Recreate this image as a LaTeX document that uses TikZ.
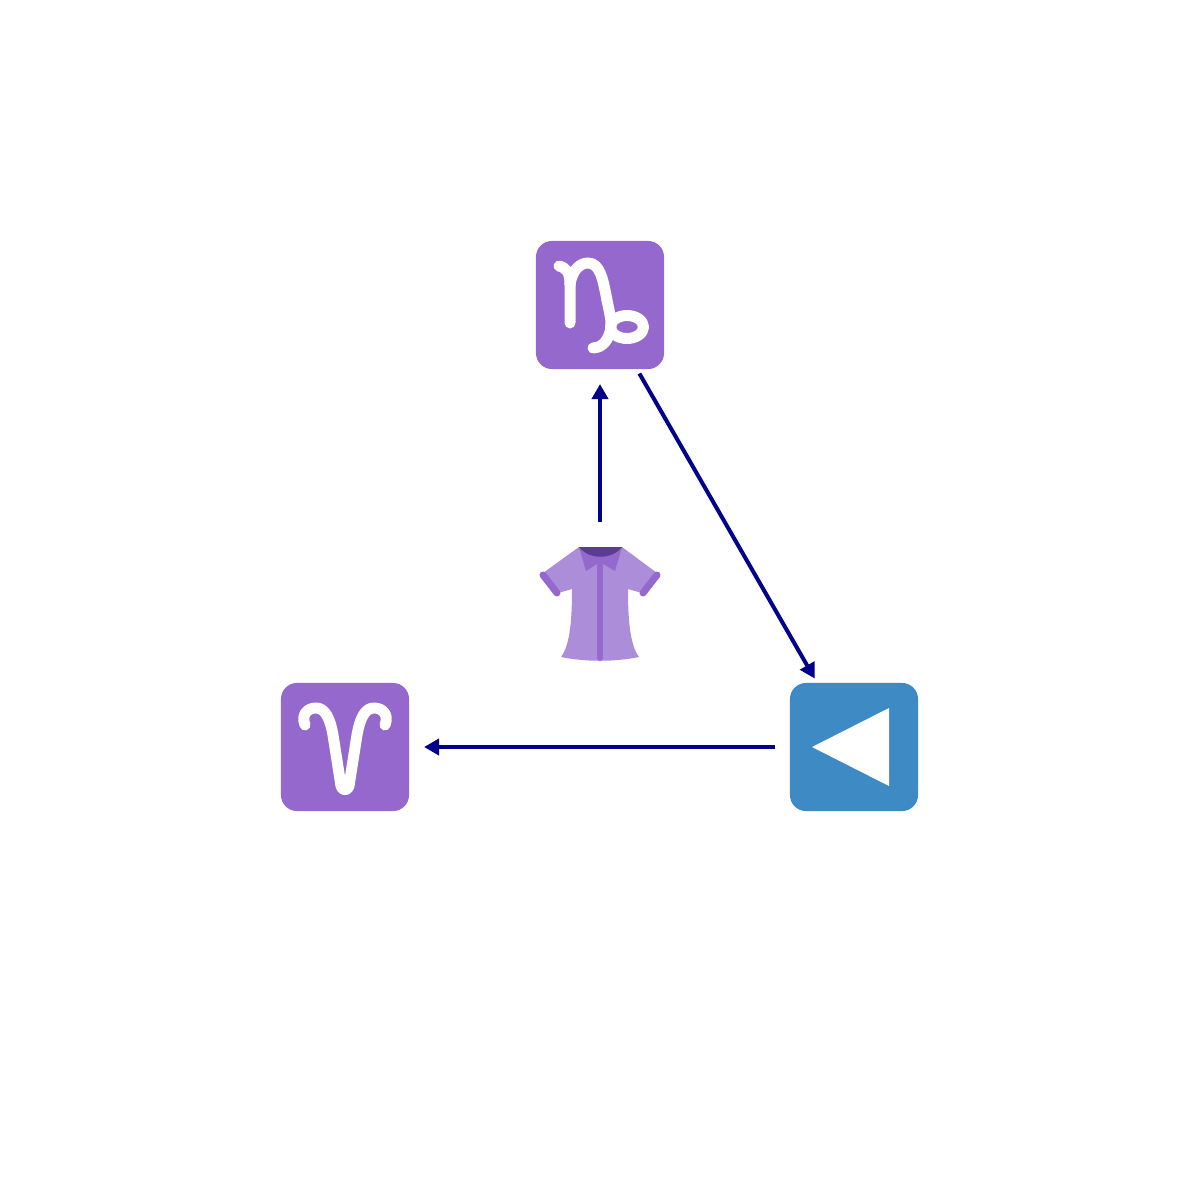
\documentclass[tikz,border=0pt]{standalone}
\usetikzlibrary{arrows.meta}

\definecolor{signpurple}{HTML}{9468CC}
\definecolor{signblue}{HTML}{3E8AC4}
\definecolor{shirtlight}{HTML}{AB8DDA}
\definecolor{shirtdark}{HTML}{5C3B94}
\definecolor{edgeblue}{HTML}{00008B}

\tikzset{
	tile/.style={rectangle, rounded corners=0.16cm, minimum size=1.28cm, inner sep=0pt, outer sep=0pt},
	spot/.style={circle, minimum size=1.58cm, inner sep=0pt, outer sep=0pt},
	sign/.style={draw=white, line width=0.11cm, line cap=round, line join=round},
	link/.style={draw=edgeblue, line width=0.04cm, -{Triangle[length=0.15cm,width=0.16cm]}},
}

\begin{document}
\begin{tikzpicture}[x=0.01cm,y=-0.01cm]
	\useasboundingbox (0,0) rectangle (1200,1200);

	\node[tile, fill=signpurple] (capricornbox) at (600,305) {};
	\node[tile, fill=signpurple] (ariesbox) at (345,747) {};
	\node[tile, fill=signblue] (reversebox) at (854,747) {};

	\node[spot] (capricorn) at (capricornbox) {};
	\node[spot] (aries) at (ariesbox) {};
	\node[spot] (reverse) at (reversebox) {};
	\node[spot] (shirt) at (600,601) {};

	% capricorn sign
	\draw[sign] (559,266) .. controls (567,268) and (570,273) .. (570,285) -- (570,323);
	\draw[sign] (570,285) .. controls (572,270) and (580,263) .. (588,263)
		.. controls (600,263) and (603,280) .. (606,295)
		.. controls (609,312) and (613,322) .. (610,332)
		.. controls (607,343) and (600,348) .. (593,348);
	\draw[sign] (627,327) ellipse [x radius=16.5, y radius=11.5];

	% aries sign
	\draw[sign] (305,725) .. controls (301,715) and (307,708) .. (316,708)
		.. controls (325,708) and (330,718) .. (333,735)
		-- (341,786) .. controls (342,791) and (348,791) .. (349,786)
		-- (357,735)
		.. controls (360,718) and (365,708) .. (374,708)
		.. controls (383,708) and (389,715) .. (385,725);

	% reverse button
	\fill[white] (812,747) -- (889,708) -- (889,786) -- cycle;

	% shirt
	\fill[shirtlight] (579,547) -- (622,547) -- (657,573) -- (642,593) -- (628,589)
		.. controls (628,620) and (630,645) .. (639,657)
		.. controls (615,662) and (585,662) .. (561,657)
		.. controls (570,645) and (572,620) .. (572,589)
		-- (558,593) -- (543,573) -- cycle;
	\draw[signpurple, line width=0.07cm, line cap=round] (543,575) -- (557,593);
	\draw[signpurple, line width=0.07cm, line cap=round] (657,575) -- (643,593);
	\fill[signpurple] (579,547) -- (622,547) -- (615,571) -- (600,562) -- (586,571) -- cycle;
	\draw[signpurple, line width=0.06cm, line cap=round] (600,565) -- (600,658);
	\fill[shirtdark] (579,547) -- (622,547) .. controls (612,560) and (589,560) .. (579,547) -- cycle;

	\draw[link] (shirt) -- (capricorn);
	\draw[link] (capricorn) -- (reverse);
	\draw[link] (reverse) -- (aries);
\end{tikzpicture}
\end{document}
